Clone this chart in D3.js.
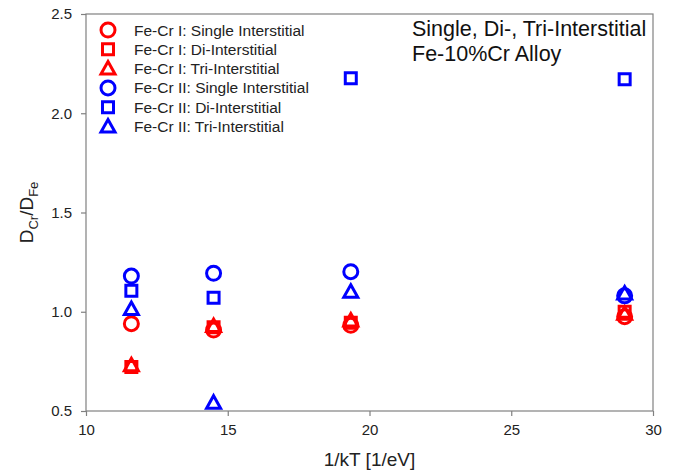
<!DOCTYPE html>
<html>
<head>
<meta charset="utf-8">
<script src="https://cdn.jsdelivr.net/npm/d3@7"></script>
<style>
    body { margin: 0; background: #fff; }
    svg { font-family: "Liberation Sans", Arial, sans-serif; }
</style>
</head>
<body>
<svg id="chart"></svg>
<script>
// данные
const xValues = [11.6, 14.5, 19.34, 29.0];   // 1/kT
const seriesNames = [
    "Fe-Cr I: Single Interstitial",
    "Fe-Cr I: Di-Interstitial",
    "Fe-Cr I: Tri-Interstitial",
    "Fe-Cr II: Single Interstitial",
    "Fe-Cr II: Di-Interstitial",
    "Fe-Cr II: Tri-Interstitial"
];
const feCrISingle = [0.940, 0.908, 0.932, 0.975];
const feCrIDi = [0.722, 0.922, 0.945, 1.000];
const feCrITri = [0.730, 0.928, 0.956, 0.990];
const feCrIISingle = [1.180, 1.194, 1.202, 1.080];
const feCrIIDi = [1.106, 1.071, 2.176, 2.171];
const feCrIITri = [1.014, 0.542, 1.101, 1.092];
const xTicks = [10, 15, 20, 25, 30];
const yTicks = [0.5, 1.0, 1.5, 2.0, 2.5];
const titleLines = ["Single, Di-, Tri-Interstitial", "Fe-10%Cr Alloy"];

function getSeries() {
    let values = [feCrISingle, feCrIDi, feCrITri, feCrIISingle, feCrIIDi, feCrIITri];
    let shapes = ["circle", "square", "triangle", "circle", "square", "triangle"];
    let colors = ["#ff0000", "#ff0000", "#ff0000", "#0000ff", "#0000ff", "#0000ff"];
    return seriesNames.map((name, i) => ({
        name: name,
        shape: shapes[i],
        color: colors[i],
        points: xValues.map((x, j) => ({x: x, y: values[i][j]}))
    }));
}

function markerPath(shape) {
    // контур маркера вокруг (0,0)
    if (shape == "circle") {
        let p = d3.path();
        p.arc(0, 0, 7, 0, 2 * Math.PI);
        return p.toString();
    } else if (shape == "square") {
        return "M-5.5,-5.5H5.5V5.5H-5.5Z";
    }
    return "M0,-7L7,5.5H-7Z";
}

function drawChart() {
    let width = 675;
    let height = 471;
    let margin = {left: 86, right: 22, top: 14, bottom: 60};
    let svg = d3.select("#chart")
        .attr("width", width)
        .attr("height", height);

    let plotW = width - margin.left - margin.right;
    let plotH = height - margin.top - margin.bottom;

    let scaleX = d3.scaleLinear().domain([10, 30]).range([0, plotW]);
    let scaleY = d3.scaleLinear().domain([0.5, 2.5]).range([plotH, 0]);

    let g = svg.append("g")
        .attr("transform", `translate(${margin.left}, ${margin.top})`);

    // рамка
    g.append("rect")
        .attr("width", plotW)
        .attr("height", plotH)
        .attr("fill", "none")
        .attr("stroke", "#808080")
        .attr("stroke-width", 1.2);

    // оси
    let axisX = d3.axisBottom(scaleX).tickValues(xTicks).tickSize(5).tickPadding(8).tickFormat(d3.format("d"));
    let axisY = d3.axisLeft(scaleY).tickValues(yTicks).tickSize(5).tickPadding(9).tickFormat(d3.format(".1f"));

    g.append("g")
        .attr("class", "x-axis")
        .attr("transform", `translate(0, ${plotH})`)
        .call(axisX);
    g.append("g")
        .attr("class", "y-axis")
        .call(axisY);

    g.selectAll(".domain").remove();
    g.selectAll(".tick line").attr("stroke", "#808080").attr("stroke-width", 1.2);
    g.selectAll(".tick text")
        .attr("fill", "#222")
        .style("font-size", "15px");

    // подписи осей
    svg.append("text")
        .attr("x", margin.left + plotW / 2)
        .attr("y", 466)
        .attr("text-anchor", "middle")
        .attr("fill", "#222")
        .style("font-size", "19px")
        .text("1/kT [1/eV]");

    let yLabel = svg.append("text")
        .attr("transform", `translate(33, ${margin.top + plotH / 2}) rotate(-90)`)
        .attr("text-anchor", "middle")
        .attr("fill", "#222")
        .style("font-size", "19px");
    yLabel.append("tspan").text("D");
    yLabel.append("tspan").attr("dy", 5).style("font-size", "13px").text("Cr");
    yLabel.append("tspan").attr("dy", -5).text("/D");
    yLabel.append("tspan").attr("dy", 5).style("font-size", "13px").text("Fe");

    // заголовок внутри графика
    svg.selectAll(".title")
        .data(titleLines)
        .enter()
        .append("text")
        .attr("class", "title")
        .attr("x", 412)
        .attr("y", (d, i) => 36 + i * 25)
        .attr("fill", "#111")
        .style("font-size", "21.5px")
        .text(d => d);

    // точки
    let series = getSeries();
    series.forEach(s => {
        g.selectAll(null)
            .data(s.points)
            .enter()
            .append("path")
            .attr("d", markerPath(s.shape))
            .attr("transform", d => `translate(${scaleX(d.x)}, ${scaleY(d.y)})`)
            .attr("fill", "none")
            .attr("stroke", s.color)
            .attr("stroke-width", 3);
    });

    // легенда
    let legend = svg.selectAll(".legend")
        .data(series)
        .enter()
        .append("g")
        .attr("class", "legend")
        .attr("transform", (d, i) => `translate(108, ${30 + i * 19.3})`);

    legend.append("path")
        .attr("d", d => markerPath(d.shape))
        .attr("fill", "none")
        .attr("stroke", d => d.color)
        .attr("stroke-width", 3);

    legend.append("text")
        .attr("x", 26)
        .attr("dy", "0.36em")
        .attr("fill", "#222")
        .style("font-size", "15.5px")
        .text(d => d.name);
}

drawChart();
</script>
</body>
</html>
